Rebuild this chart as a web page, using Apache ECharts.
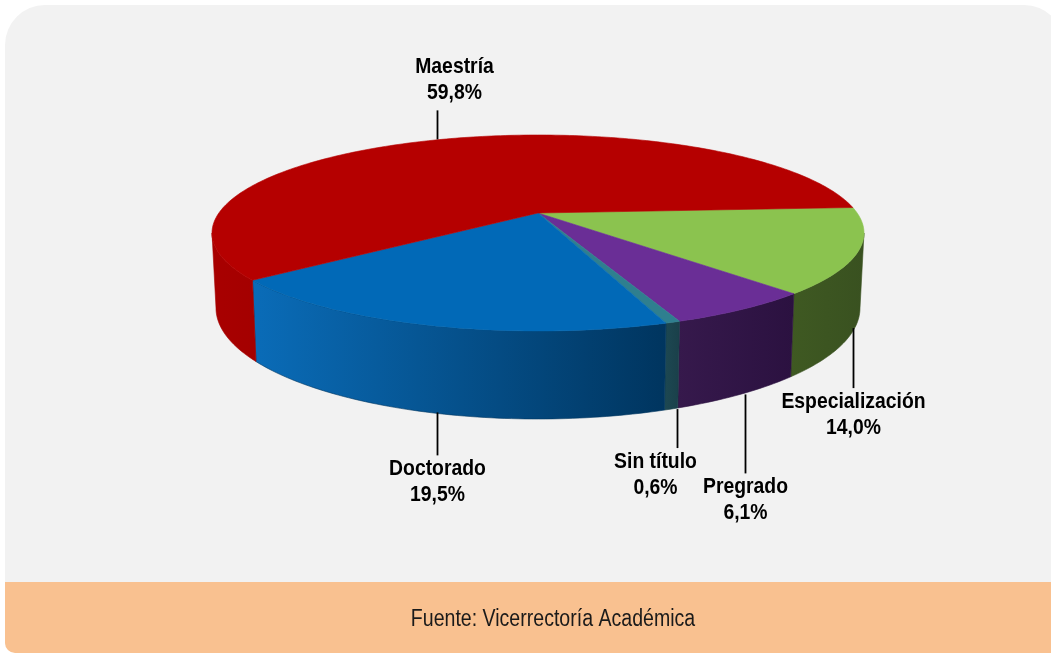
<!DOCTYPE html>
<html>
<head>
<meta charset="utf-8">
<script src="https://cdn.jsdelivr.net/npm/echarts@6/dist/echarts.min.js"></script>
<style>
  html, body { margin: 0; padding: 0; background: #fff; }
  #pie-chart { width: 1051px; height: 654px; }
</style>
</head>
<body>
<div id="pie-chart"></div>
<script>
// datos (orden de dibujo, en sentido horario desde la derecha)
var categories = ['Especialización', 'Pregrado', 'Sin título', 'Doctorado', 'Maestría'];
var shares = [14.0, 6.1, 0.6, 19.5, 59.8];
var topColors = ['#8bc34f', '#6a2e96', '#2f7f8f', '#0169b7', '#b50000'];
var wallColors = [['#3f5922', '#395120'], ['#36194c', '#2b1140'], ['#1d4852', '#1a404a'], ['#0a6cb8', '#00355f'], ['#a80000', '#a40000']];
var source = 'Fuente: Vicerrectoría Académica';

// geometria del "3D"
var CX = 538, START = -3.4, PERSP = 0.204;
var TOP = { cy: 233, rx: 326, ry: 98 };
var BOT = { cy: 308, rx: 322, ry: 111 };
// ajuste de etiquetas: largo de linea, corrimiento de linea y de texto
var labelLine = [60, 79, 39, 43, -29];
var labelShift = [-2, 5, 6, 9, -5];
var textShift = [0, 0, -22, 0, 17];

var startAngles = [];
(function() {
  var acc = START;
  for (var i = 0; i < shares.length; i++) {
    startAngles.push(acc);
    acc += shares[i] * 3.6;
  }
})();

function project(deg, e) {
  var p = deg * Math.PI / 180, s = Math.sin(p), c = Math.cos(p);
  var den = 1 - PERSP * s;
  var u = c * Math.sqrt(1 - PERSP * PERSP) / den;
  var v = (s - PERSP) / den;
  return [CX + e.rx * u, e.cy + e.ry * v];
}

function arc(a0, a1, e) {
  var pts = [], n = Math.max(2, Math.ceil(Math.abs(a1 - a0)));
  for (var k = 0; k <= n; k++) pts.push(project(a0 + (a1 - a0) * k / n, e));
  return pts;
}

function fmt(v) { return v.toFixed(1).replace('.', ',') + '%'; }

var VIS0 = Math.asin(PERSP) * 180 / Math.PI, VIS1 = 180 - VIS0;

function renderSlice(params, api) {
  var i = params.dataIndex;
  var val = api.value(0);
  var a0 = startAngles[i], a1 = a0 + val * 3.6;
  var children = [];

  // pared frontal
  var candidates = [[a0, a1], [a0 - 360, a1 - 360], [a0 + 360, a1 + 360]];
  candidates.forEach(function(c) {
    var w0 = Math.max(c[0], VIS0), w1 = Math.min(c[1], VIS1);
    if (w1 <= w0) return;
    var top = arc(w0, w1, TOP), bot = arc(w1, w0, BOT);
    var pts = top.concat(bot);
    var xs = pts.map(function(p) { return p[0]; });
    var x0 = Math.min.apply(null, xs), x1 = Math.max.apply(null, xs);
    var grad = new echarts.graphic.LinearGradient(0, 0, 0, 0, [
      { offset: 0, color: wallColors[i][0] },
      { offset: 1, color: wallColors[i][1] }
    ], true);
    grad.x = x0; grad.y = 0; grad.x2 = x1; grad.y2 = 0;
    children.push({
      type: 'polygon',
      shape: { points: pts },
      style: { fill: grad, stroke: wallColors[i][1], lineWidth: 0.6 }
    });
  });

  // cara superior
  var apex = [CX, TOP.cy - PERSP * TOP.ry];
  children.push({
    type: 'polygon',
    shape: { points: [apex].concat(arc(a0, a1, TOP)) },
    style: { fill: topColors[i], stroke: topColors[i], lineWidth: 0.6 }
  });

  // etiqueta
  var mid = (a0 + a1) / 2;
  var m = ((mid % 360) + 360) % 360;
  var front = m > VIS0 && m < VIS1;
  var anchor = project(mid, front ? BOT : TOP);
  var lx = Math.round(anchor[0] + labelShift[i]) + 0.5;
  var y0 = anchor[1], y1 = anchor[1] + labelLine[i];
  children.push({
    type: 'line',
    shape: { x1: lx, y1: y0, x2: lx, y2: y1 },
    style: { stroke: '#000', lineWidth: 1.8 }
  });
  children.push({
    type: 'text',
    x: lx + textShift[i],
    y: labelLine[i] > 0 ? y1 + 1 : y1 - 4,
    scaleX: 0.88,
    style: {
      text: categories[i] + '\n' + fmt(val),
      fill: '#000',
      font: 'bold 22px "Liberation Sans", Arial, sans-serif',
      lineHeight: 26,
      align: 'center',
      verticalAlign: labelLine[i] > 0 ? 'top' : 'bottom'
    }
  });

  return { type: 'group', children: children };
}

var myPie = echarts.init(document.getElementById('pie-chart'));
var option = {
  backgroundColor: '#ffffff',
  animation: false,
  graphic: [
    {
      type: 'rect', z: 0,
      shape: { x: 5, y: 5, width: 1059, height: 640, r: [40, 40, 0, 0] },
      style: { fill: '#f2f2f2' }
    },
    {
      type: 'rect', z: 1,
      shape: { x: 5, y: 582, width: 1059, height: 71, r: [0, 0, 0, 10] },
      style: { fill: '#f9c190' }
    },
    {
      type: 'text', z: 2,
      x: 553, y: 620, scaleX: 0.85,
      style: {
        text: source,
        fill: '#1a1a1a',
        font: '23px "Liberation Sans", Arial, sans-serif',
        align: 'center',
        verticalAlign: 'middle'
      }
    }
  ],
  series: [
    {
      type: 'custom',
      coordinateSystem: 'none',
      z: 5,
      renderItem: renderSlice,
      data: shares.map(function(v, i) { return { name: categories[i], value: v }; })
    }
  ]
};
myPie.setOption(option);
</script>
</body>
</html>
